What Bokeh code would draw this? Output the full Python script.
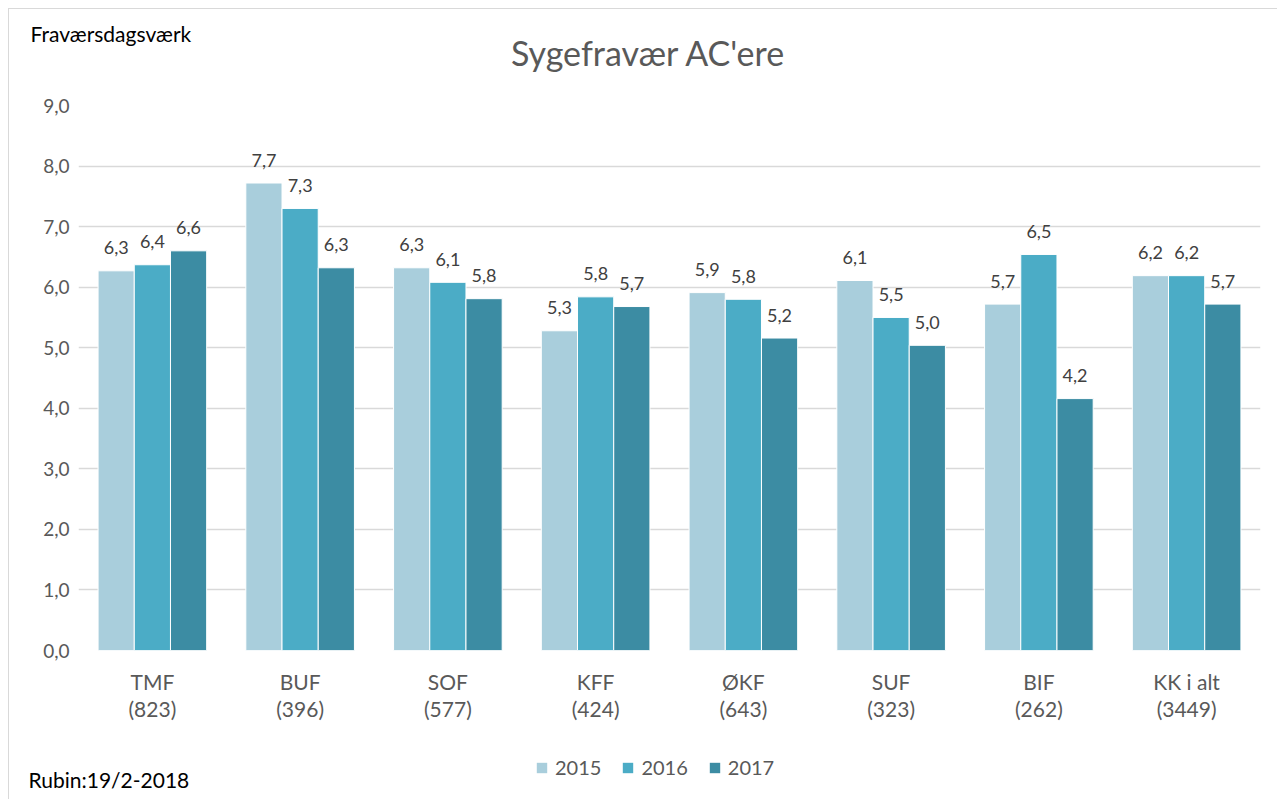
from bokeh.plotting import figure
from bokeh.layouts import column
from bokeh.models import (ColumnDataSource, FactorRange, Range1d, Label, Legend,
                          LegendItem, FixedTicker)
from bokeh.transform import dodge
from bokeh.core.properties import value
from bokeh.embed import file_html
from bokeh.resources import INLINE

# ---- data ----
categories = ["TMF\n(823)", "BUF\n(396)", "SOF\n(577)", "KFF\n(424)",
              "ØKF\n(643)", "SUF\n(323)", "BIF\n(262)", "KK i alt\n(3449)"]
years = ["2015", "2016", "2017"]
v2015 = [6.27, 7.72, 6.32, 5.28, 5.91, 6.11, 5.72, 6.19]
v2016 = [6.37, 7.30, 6.08, 5.84, 5.80, 5.50, 6.54, 6.19]
v2017 = [6.60, 6.32, 5.81, 5.68, 5.16, 5.04, 4.16, 5.72]
y_ticks = [0, 1, 2, 3, 4, 5, 6, 7, 8, 9]
y_tick_labels = ["0,0", "1,0", "2,0", "3,0", "4,0", "5,0", "6,0", "7,0", "8,0", "9,0"]
title_text = "Sygefravær AC'ere"
y_title = "Fraværsdagsværk"
source_note = "Rubin:19/2-2018"

colors = ["#A9CEDC", "#4BACC6", "#3C8CA3"]
FONT = "Lato"
GRAY = "#595959"
BORDER = "1px solid #d9d9d9"
W = 1269
H_HEAD, H_MAIN, H_FOOT = 77, 639, 75


def fmt(v):
    return f"{v:.1f}".replace(".", ",")


def blank_fig(h, styles):
    f = figure(width=W, height=h, x_range=Range1d(0, W), y_range=Range1d(h, 0),
               output_backend="svg", toolbar_location=None,
               min_border=0, min_border_left=0, min_border_right=0,
               min_border_top=0, min_border_bottom=0)
    f.axis.visible = False
    f.grid.visible = False
    f.outline_line_color = None
    f.frame_align = False
    f.styles = styles
    return f


# ---- header ----
head = blank_fig(H_HEAD, {"margin-left": "8px", "margin-top": "8px",
                          "border-left": BORDER, "border-top": BORDER})
head.add_layout(Label(x=639, y=43, text=title_text, text_align="center",
                      text_baseline="middle", text_font=FONT, text_font_size="34px",
                      text_color=GRAY))
head.add_layout(Label(x=21, y=24, text=y_title, text_align="left",
                      text_baseline="middle", text_font=FONT, text_font_size="21px",
                      text_color="black"))

# ---- main chart ----
data = {"cat": categories}
for yr, vals in zip(years, [v2015, v2016, v2017]):
    data[yr] = vals
    data["lbl" + yr] = [fmt(v) for v in vals]
src = ColumnDataSource(data)

p = figure(x_range=FactorRange(*categories), y_range=Range1d(0, 9),
           width=W, height=H_MAIN, output_backend="svg", toolbar_location=None,
           min_border_left=69, min_border_right=18, min_border_top=20,
           min_border_bottom=72)
p.styles = {"margin-left": "8px", "border-left": BORDER}
p.outline_line_color = None
p.frame_align = False

bw = 0.245
offsets = [-bw, 0.0, bw]
for yr, off, col in zip(years, offsets, colors):
    p.vbar(x=dodge("cat", off, range=p.x_range), top=yr, width=bw, source=src,
           fill_color=col, line_color="white", line_width=1)
    p.text(x=dodge("cat", off, range=p.x_range), y=yr, text="lbl" + yr, source=src,
           text_align="center", text_baseline="alphabetic", y_offset=-23,
           text_font=value(FONT), text_font_size="18px", text_color="#404040")

p.yaxis.ticker = FixedTicker(ticks=y_ticks)
p.yaxis.major_label_overrides = {t: l for t, l in zip(y_ticks, y_tick_labels)}
p.yaxis.axis_line_color = None
p.yaxis.major_tick_line_color = None
p.yaxis.minor_tick_line_color = None
p.yaxis.major_tick_out = 0
p.yaxis.major_tick_in = 0
p.yaxis.major_label_standoff = 9
p.yaxis.major_label_text_font = FONT
p.yaxis.major_label_text_font_size = "19px"
p.yaxis.major_label_text_color = GRAY

p.xaxis.axis_line_color = None
p.xaxis.major_tick_line_color = None
p.xaxis.minor_tick_line_color = None
p.xaxis.major_tick_out = 0
p.xaxis.major_tick_in = 0
p.xaxis.major_label_standoff = 18
p.xaxis.major_label_text_font = FONT
p.xaxis.major_label_text_font_size = "21px"
p.xaxis.major_label_text_color = GRAY
p.xaxis.major_label_text_line_height = 1.11

p.xgrid.grid_line_color = None
p.ygrid.grid_line_color = "#D9D9D9"
p.ygrid.grid_line_width = 1.5

# ---- footer with legend and source note ----
foot = blank_fig(H_FOOT, {"margin-left": "8px", "border-left": BORDER})
legend_src = ColumnDataSource({"x": [float("nan")], "top": [float("nan")]})
leg_renderers = [foot.vbar(x="x", top="top", width=1, source=legend_src, fill_color=c,
                           line_color=None) for c in colors]
legend = Legend(items=[LegendItem(label=yr, renderers=[r]) for yr, r in zip(years, leg_renderers)],
                orientation="horizontal", location=(526, 20),
                padding=0, margin=0, spacing=20, label_standoff=7,
                glyph_width=13, glyph_height=13,
                label_text_font=FONT, label_text_font_size="20px", label_text_color=GRAY,
                border_line_color=None, background_fill_alpha=0)
foot.add_layout(legend, "center")
foot.add_layout(Label(x=19, y=55, text=source_note, text_align="left",
                      text_baseline="middle", text_font=FONT, text_font_size="21px",
                      text_color="black"))

layout = column(head, p, foot, spacing=0)
open("out.html", "w").write(file_html(layout, INLINE))
